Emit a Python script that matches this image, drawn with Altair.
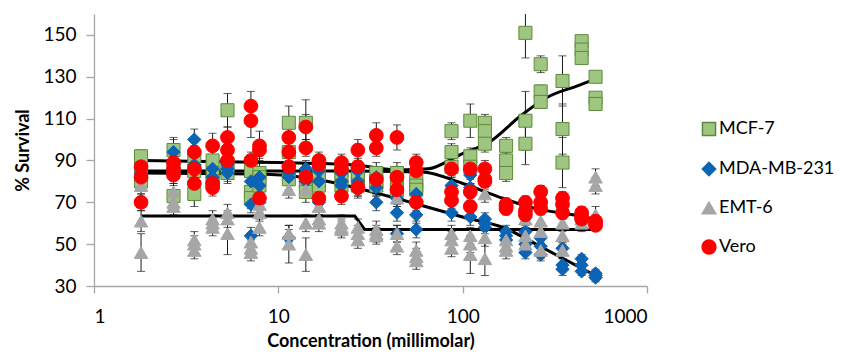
import altair as alt
import pandas as pd

series_names = ["MCF-7", "MDA-MB-231", "EMT-6", "Vero"]
fill_colors = ["#9FC680", "#0B64B4", "#A6A6A6", "#FF0000"]
stroke_colors = ["#5C8A3A", "#0B64B4", "#A6A6A6", "#FF0000"]
shapes = ["square", "diamond", "triangle-up", "circle"]
sizes = [170, 190, 170, 190]

conc = [1.8, 2.7, 3.5, 4.4, 5.3, 7.1, 7.9, 11.4, 14.1, 16.6, 22, 27,
        34, 44, 56, 87, 110, 132, 172, 219, 265, 348, 442, 526]

mcf7 = [(92, 86, 80), (95, 86, 73), (92, 85, 74), (90, 84, 80), (114, 88, 84),
        (85, 75, 72), (84, 82, 78), (108, 94, 81), (108, 80, 75), (86, 82, 78),
        (85, 82, 78), (84, 81, 78), (84, 80, 78), (84, 80, 76), (80, 78, 76),
        (104, 94, 87), (109, 92, 87), (108, 104, 98), (97, 90, 84), (151, 109, 98),
        (136, 123, 118), (128, 105, 89), (147, 143, 139), (130, 120, 117)]
mcf7_err = [(3, 4, 4), (6, 5, 5), (5, 5, 6), (5, 5, 5), (8, 5, 5),
            (5, 5, 5), (5, 5, 5), (8, 5, 5), (11, 5, 5), (5, 5, 5),
            (5, 5, 5), (5, 5, 5), (5, 5, 5), (5, 5, 5), (5, 5, 5),
            (4, 4, 4), (8, 4, 4), (4, 4, 4), (4, 4, 4), (12, 14, 10),
            (4, 3, 3), (12, 12, 12), (2, 2, 2), (2, 2, 2)]

mda = [(84, 83, 82), (94, 88, 86), (100, 88, 85), (86, 82, 80), (88, 86, 84),
       (80, 69, 54), (82, 78, 70), (84, 82, 53), (86, 84, 80), (85, 80, 70),
       (84, 80, 78), (85, 80, 76), (82, 77, 70), (72, 65, 55), (74, 64, 57),
       (78, 70, 65), (83, 77, 63), (62, 60, 58), (56, 54, 52), (56, 50, 46),
       (53, 49, 45), (48, 40, 38), (43, 40, 37), (36, 35, 34)]
mda_err = [(4, 4, 4), (6, 4, 4), (5, 4, 4), (4, 4, 4), (4, 4, 4),
           (4, 4, 4), (4, 4, 4), (4, 4, 4), (4, 4, 4), (4, 4, 4),
           (4, 4, 4), (4, 4, 4), (4, 4, 4), (4, 4, 4), (4, 4, 4),
           (4, 4, 4), (4, 4, 4), (3, 3, 3), (3, 3, 3), (3, 3, 3),
           (3, 3, 3), (3, 3, 3), (2, 2, 2), (2, 2, 2)]

emt = [(78, 61, 46), (75, 70, 68), (52, 50, 47), (62, 60, 58), (65, 62, 55),
       (51, 48, 46), (69, 65, 58), (76, 55, 50), (76, 60, 45), (68, 62, 60),
       (60, 58, 57), (58, 55, 52), (57, 55, 54), (72, 55, 49), (47, 44, 42),
       (55, 52, 48), (54, 50, 45), (74, 53, 43), (52, 49, 47), (62, 54, 50),
       (61, 56, 47), (60, 54, 47), (64, 62, 60), (82, 78, 64)]
emt_err = [(4, 5, 9), (4, 4, 4), (4, 4, 4), (4, 4, 4), (4, 4, 10),
           (4, 4, 4), (4, 4, 4), (4, 4, 9), (4, 4, 8), (4, 4, 4),
           (4, 4, 4), (4, 4, 4), (4, 4, 4), (4, 4, 4), (4, 4, 4),
           (4, 4, 4), (4, 4, 9), (4, 4, 8), (4, 4, 4), (4, 4, 4),
           (4, 4, 4), (4, 4, 4), (4, 4, 4), (4, 4, 4)]

vero = [(87, 82, 70), (89, 86, 83), (94, 86, 79), (97, 79, 77), (101, 95, 90),
        (116, 109, 90), (97, 95, 72), (101, 94, 87), (106, 96, 82), (90, 88, 72),
        (89, 86, 73), (95, 87, 77), (102, 96, 81), (101, 82, 76), (89, 85, 70),
        (86, 75, 71), (86, 75, 68), (86, 81, 80), (69, 68, 67), (70, 66, 64),
        (75, 70, 67), (72, 69, 65), (65, 63, 62), (61, 60, 59)]
vero_err = [(4, 4, 4), (5, 4, 4), (5, 4, 4), (6, 4, 4), (5, 4, 4),
            (7, 8, 4), (7, 4, 4), (5, 4, 4), (6, 4, 4), (4, 4, 4),
            (4, 4, 4), (5, 4, 4), (6, 4, 4), (6, 4, 4), (4, 4, 4),
            (4, 4, 4), (4, 4, 4), (4, 4, 4), (3, 3, 3), (3, 3, 3),
            (3, 3, 3), (3, 3, 3), (2, 2, 2), (2, 2, 2)]

# fitted curves
mcf7_fit_x = [1.8, 10, 25, 45, 65, 96, 145, 204, 285, 430, 510]
mcf7_fit_y = [90, 89, 88, 85.5, 86, 92.6, 99.8, 111, 120, 126, 128.5]
mda_fit_x = [1.8, 8, 15, 29, 60, 100, 169, 250, 430, 500]
mda_fit_y = [84, 83.5, 81.5, 76, 68.5, 63, 57.7, 50, 39, 36]
emt_fit_x = [1.8, 26, 29.4, 510]
emt_fit_y = [63.5, 63.5, 57, 57]
vero_fit_x = [1.8, 20, 60, 100, 158, 250, 430, 510]
vero_fit_y = [85, 85, 84.5, 79, 72.5, 67, 63.5, 62]

rows = []
for name, vals, errs in [("MCF-7", mcf7, mcf7_err), ("MDA-MB-231", mda, mda_err),
                         ("EMT-6", emt, emt_err), ("Vero", vero, vero_err)]:
    for c, trip, etrip in zip(conc, vals, errs):
        for v, e in zip(trip, etrip):
            rows.append({"series": name, "conc": c, "val": v,
                         "lo": v - e, "hi": v + e})
df = pd.DataFrame(rows)

fit_rows = []
for name, xs, ys in [("MCF-7", mcf7_fit_x, mcf7_fit_y), ("MDA-MB-231", mda_fit_x, mda_fit_y),
                     ("Vero", vero_fit_x, vero_fit_y)]:
    for x, y in zip(xs, ys):
        fit_rows.append({"fit": name, "conc": x, "val": y})
fit_df = pd.DataFrame(fit_rows)
emt_fit_df = pd.DataFrame({"conc": emt_fit_x, "val": emt_fit_y})

FONT = "Lato"
xscale = alt.Scale(type="log", domain=[1, 1000], nice=False)
yscale = alt.Scale(domain=[30, 160], nice=False, zero=False)

xaxis = alt.Axis(values=[1, 10, 100, 1000], format="d", title="Concentration (millimolar)",
                 grid=False, tickSize=7, tickColor="#A6A6A6", domainColor="#A6A6A6",
                 domainWidth=1.3, tickWidth=1.3, labelFontSize=19, labelFont=FONT,
                 labelColor="#000000", titleFont=FONT, titleFontSize=18,
                 titleFontWeight="bold", titleColor="#000000", labelPadding=14,
                 titlePadding=6)
yaxis = alt.Axis(values=[30, 50, 70, 90, 110, 130, 150], title="% Survival",
                 grid=False, tickSize=8, tickColor="#A6A6A6", domainColor="#A6A6A6",
                 domainWidth=1.3, tickWidth=1.3, labelFontSize=19, labelFont=FONT,
                 labelColor="#000000", titleFont=FONT, titleFontSize=18,
                 titleFontWeight="bold", titleColor="#000000", labelPadding=10,
                 titlePadding=10)

x = alt.X("conc:Q", scale=xscale, axis=xaxis)
y = alt.Y("val:Q", scale=yscale, axis=yaxis)

base = alt.Chart(df)

err_rule = base.mark_rule(color="#1A1A1A", strokeWidth=1, clip=True).encode(
    x=x, y=alt.Y("lo:Q", scale=yscale, axis=yaxis), y2="hi:Q")
cap_lo = base.mark_tick(color="#1A1A1A", orient="horizontal", size=8, thickness=1, clip=True).encode(
    x=x, y=alt.Y("lo:Q", scale=yscale, axis=yaxis))
cap_hi = base.mark_tick(color="#1A1A1A", orient="horizontal", size=8, thickness=1, clip=True).encode(
    x=x, y=alt.Y("hi:Q", scale=yscale, axis=yaxis))

fits = alt.Chart(fit_df).mark_line(color="#000000", strokeWidth=3, interpolate="monotone").encode(
    x=x, y=y, detail="fit:N")
emt_fit = alt.Chart(emt_fit_df).mark_line(color="#000000", strokeWidth=3).encode(x=x, y=y)

legend = alt.Legend(title=None, orient="none", legendX=606, legendY=106,
                    labelFont=FONT, labelFontSize=18, labelColor="#000000",
                    rowPadding=20, labelOffset=1, symbolOpacity=1)
sdom = series_names
points = base.mark_point(opacity=1, strokeWidth=1, filled=False).encode(
    x=x, y=y,
    shape=alt.Shape("series:N", scale=alt.Scale(domain=sdom, range=shapes), legend=legend),
    fill=alt.Fill("series:N", scale=alt.Scale(domain=sdom, range=fill_colors), legend=legend),
    stroke=alt.Stroke("series:N", scale=alt.Scale(domain=sdom, range=stroke_colors), legend=legend),
    size=alt.Size("series:N", scale=alt.Scale(domain=sdom, range=sizes), legend=legend),
)

chart = alt.layer(err_rule, cap_lo, cap_hi, fits, emt_fit, points).properties(
    width=553, height=272,
    autosize=alt.AutoSizeParams(type="none"),
    padding={"left": 86, "top": 6, "right": 189, "bottom": 64},
).configure_view(stroke=None)

chart.save("out.html", embed_options={"renderer": "svg", "actions": False})
